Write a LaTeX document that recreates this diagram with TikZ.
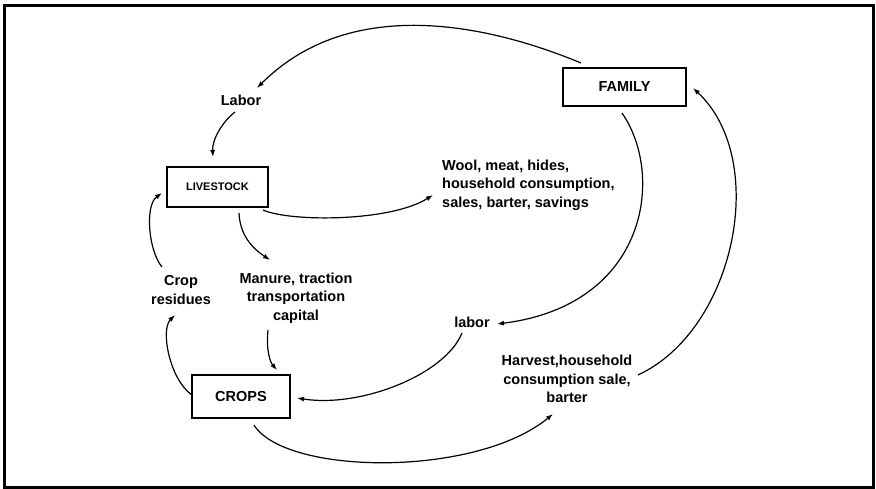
\documentclass[tikz,border=0pt]{standalone}
\usepackage{fontspec}
\setmainfont{Liberation Sans}
\usetikzlibrary{arrows.meta}

\tikzset{
  box/.style={draw, line width=1.2pt, rectangle, inner sep=0pt,
    font=\fontsize{14.5}{18}\selectfont\bfseries},
  lbl/.style={inner sep=0pt, font=\fontsize{14.5}{18.5}\selectfont\bfseries},
  flow/.style={line width=1.2pt, -{Latex[length=7pt,width=5pt]}},
}

\begin{document}
\begin{tikzpicture}[x=1pt,y=-1pt]
  \useasboundingbox (0,0) rectangle (876,489);
  % outer frame
  \draw[line width=3pt] (4.5,5.3) rectangle (873,487.5);

  % boxes
  \node[box, minimum width=123pt, minimum height=38pt] (family) at (624.5,87) {FAMILY};
  \node[box, minimum width=101pt, minimum height=40pt,
        font=\fontsize{11}{13}\selectfont\bfseries] (livestock) at (217.5,187) {LIVESTOCK};
  \node[box, minimum width=98pt, minimum height=43pt] (crops) at (241,396.5) {CROPS};

  % flow labels
  \node[lbl] (laborA) at (241,100) {Labor};
  \node[lbl, align=left, anchor=west] (wool) at (442,185)
    {Wool, meat, hides,\\household consumption,\\sales, barter, savings};
  \node[lbl, align=center] (manure) at (296,298)
    {Manure, traction\\transportation\\capital};
  \node[lbl, align=center] (residues) at (181,290) {Crop\\residues};
  \node[lbl] (laborB) at (472,322) {labor};
  \node[lbl, align=center] (harvest) at (567,379)
    {Harvest,household\\consumption sale,\\barter};

  % connectors
  \draw[flow] ([shift={(-43.5,-24)}]family.center)
    .. controls +(-72,-30) and +(101,-101) .. ([shift={(16,-12)}]laborA.center);
  \draw[flow] ([shift={(-6,12)}]laborA.center)
    .. controls +(-13,10) and +(-1,-17) .. ([shift={(-4.5,-30)}]livestock.center);
  \draw[flow] ([shift={(45.5,23)}]livestock.center)
    .. controls +(27,12) and +(-43,27) .. ([shift={(-9,10)}]wool.west);
  \draw[flow] ([shift={(21.5,26)}]livestock.center)
    .. controls +(1,22) and +(-18,-12) .. ([shift={(-26,-38)}]manure.center);
  \draw[flow] ([shift={(-28,32)}]manure.center)
    .. controls +(-2,20) and +(-7,-8) .. ([shift={(36,-26.5)}]crops.center);
  \draw[flow] ([shift={(-19,-23)}]residues.center)
    .. controls +(-14,-17) and +(-17,12) .. ([shift={(-55.5,6)}]livestock.center);
  \draw[flow] ([shift={(-49,-1.5)}]crops.center)
    .. controls +(-22,-15) and +(-15,15) .. ([shift={(-6,25)}]residues.center);
  \draw[flow] ([shift={(-2.5,26)}]family.center)
    .. controls +(43,62) and +(151,-19) .. ([shift={(25,2)}]laborB.center);
  \draw[flow] ([shift={(-10,11)}]laborB.center)
    .. controls +(-17,42) and +(63,10) .. ([shift={(56,1.5)}]crops.center);
  \draw[flow] ([shift={(13,28.5)}]crops.center)
    .. controls +(31,50) and +(-78,64) .. ([shift={(-14,35)}]harvest.center);
  \draw[flow] ([shift={(71,-4)}]harvest.center)
    .. controls +(97,-45) and +(77,72) .. ([shift={(68.5,1)}]family.center);
\end{tikzpicture}
\end{document}
